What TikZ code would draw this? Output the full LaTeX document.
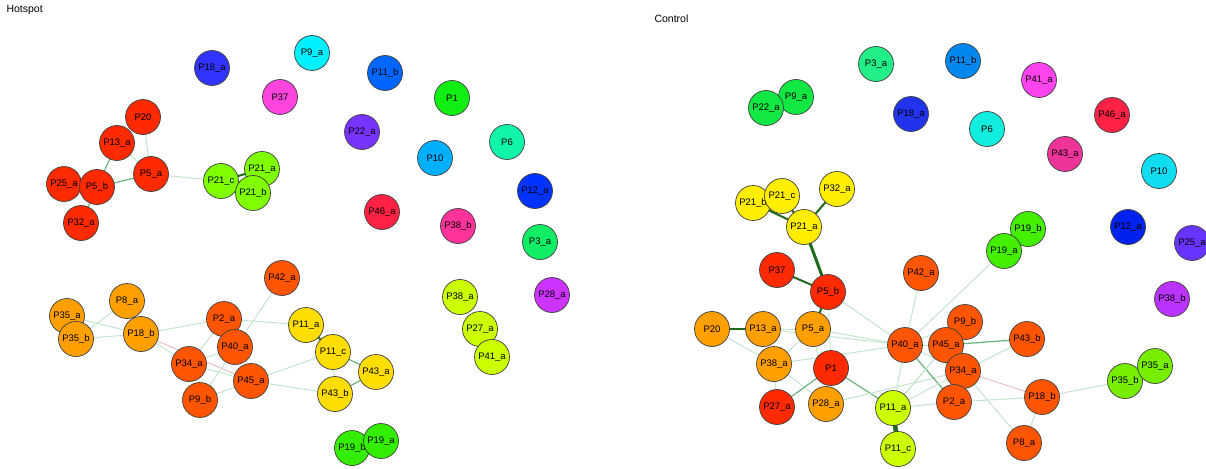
\documentclass[tikz,border=0pt]{standalone}
\usepackage{fontspec}
\setmainfont{Liberation Sans}
\usetikzlibrary{backgrounds}
\definecolor{cRed}{HTML}{FF2A00}
\definecolor{cOr}{HTML}{FF5500}
\definecolor{cLo}{HTML}{FFA000}
\definecolor{cYe}{HTML}{FFDD00}
\definecolor{cYe2}{HTML}{FFEE00}
\definecolor{cLi}{HTML}{CCFF00}
\definecolor{cTw}{HTML}{80FF00}
\definecolor{cNb}{HTML}{3333FF}
\definecolor{cCy}{HTML}{00F0FF}
\definecolor{cMg}{HTML}{FF44DD}
\definecolor{cBl}{HTML}{0066FF}
\definecolor{cGr}{HTML}{11EE11}
\definecolor{cPu}{HTML}{7733FF}
\definecolor{cSk}{HTML}{00B0FF}
\definecolor{cAq}{HTML}{11F5AA}
\definecolor{cDb}{HTML}{0033FF}
\definecolor{cCr}{HTML}{FF2244}
\definecolor{cPk}{HTML}{FF3399}
\definecolor{cSg}{HTML}{11EE66}
\definecolor{cVi}{HTML}{CC33FF}
\definecolor{cNi}{HTML}{33EE00}
\definecolor{dSg}{HTML}{22EE88}
\definecolor{dGr}{HTML}{11E844}
\definecolor{dNb}{HTML}{2233EE}
\definecolor{dBl}{HTML}{0088EE}
\definecolor{dMg}{HTML}{FF44EE}
\definecolor{dAq}{HTML}{11EEDD}
\definecolor{dPk}{HTML}{EE3399}
\definecolor{dSk}{HTML}{11DDF0}
\definecolor{dDb}{HTML}{0022EE}
\definecolor{dPu}{HTML}{6633FF}
\definecolor{dVi}{HTML}{BB33FF}
\definecolor{dNi}{HTML}{44F000}
\definecolor{dTw}{HTML}{77EE00}
\definecolor{eDark}{HTML}{1E6B1E}
\definecolor{eMid}{HTML}{6DB27C}
\definecolor{eLight}{HTML}{C4E5CC}
\definecolor{ePink}{HTML}{EBC0C6}
\tikzset{
  vtx/.style={circle, draw=black!75, line width=0.7pt, minimum size=35pt, inner sep=0pt, font=\fontsize{9.5}{10}\selectfont},
  efaint/.style={draw=eLight, line width=1pt},
  epink/.style={draw=ePink, line width=1pt},
  emid/.style={draw=eMid, line width=1.2pt},
  estrong/.style={draw=eDark, line width=2pt},
  ethick/.style={draw=eDark, line width=3pt},
  ettl/.style={font=\fontsize{10.5}{12}\selectfont, anchor=west}
}
\begin{document}
\begin{tikzpicture}[x=1pt,y=-1pt]
\useasboundingbox (0,0) rectangle (1206,468);
% titles
\node[ettl] (tH) at (3,10) {Hotspot};
\node[ettl] (tC) at (651,19) {Control};
% ---------------- Hotspot ----------------
\node[vtx, fill=cNb] (hP18a) at (212,68) {P18\_a};
\node[vtx, fill=cCy] (hP9a) at (312,53) {P9\_a};
\node[vtx, fill=cMg] (hP37) at (280,97) {P37};
\node[vtx, fill=cBl] (hP11b) at (385,73) {P11\_b};
\node[vtx, fill=cGr] (hP1) at (452,98) {P1};
\node[vtx, fill=cPu] (hP22a) at (362,132) {P22\_a};
\node[vtx, fill=cSk] (hP10) at (435,158) {P10};
\node[vtx, fill=cAq] (hP6) at (507,142) {P6};
\node[vtx, fill=cDb] (hP12a) at (535,191) {P12\_a};
\node[vtx, fill=cCr] (hP46a) at (382,212) {P46\_a};
\node[vtx, fill=cPk] (hP38b) at (458,226) {P38\_b};
\node[vtx, fill=cSg] (hP3a) at (540,242) {P3\_a};
\node[vtx, fill=cVi] (hP28a) at (552,295) {P28\_a};
\node[vtx, fill=cLi] (hP38a) at (460,297) {P38\_a};
\node[vtx, fill=cLi] (hP27a) at (480,329) {P27\_a};
\node[vtx, fill=cLi] (hP41a) at (492,357) {P41\_a};
\node[vtx, fill=cRed] (hP20) at (143,117) {P20};
\node[vtx, fill=cRed] (hP13a) at (117,143) {P13\_a};
\node[vtx, fill=cRed] (hP5a) at (151,174) {P5\_a};
\node[vtx, fill=cRed] (hP25a) at (64,184) {P25\_a};
\node[vtx, fill=cRed] (hP5b) at (97,187) {P5\_b};
\node[vtx, fill=cRed] (hP32a) at (81,223) {P32\_a};
\node[vtx, fill=cTw] (hP21c) at (221,181) {P21\_c};
\node[vtx, fill=cTw] (hP21a) at (262,169) {P21\_a};
\node[vtx, fill=cTw] (hP21b) at (253,193) {P21\_b};
\node[vtx, fill=cOr] (hP42a) at (282,278) {P42\_a};
\node[vtx, fill=cLo] (hP8a) at (127,301) {P8\_a};
\node[vtx, fill=cLo] (hP35a) at (67,316) {P35\_a};
\node[vtx, fill=cLo] (hP35b) at (76,339) {P35\_b};
\node[vtx, fill=cLo] (hP18b) at (141,334) {P18\_b};
\node[vtx, fill=cOr] (hP2a) at (224,319) {P2\_a};
\node[vtx, fill=cOr] (hP34a) at (189,364) {P34\_a};
\node[vtx, fill=cOr] (hP40a) at (235,347) {P40\_a};
\node[vtx, fill=cOr] (hP9b) at (200,400) {P9\_b};
\node[vtx, fill=cOr] (hP45a) at (251,381) {P45\_a};
\node[vtx, fill=cYe] (hP11a) at (306,325) {P11\_a};
\node[vtx, fill=cYe] (hP11c) at (333,352) {P11\_c};
\node[vtx, fill=cYe] (hP43a) at (376,372) {P43\_a};
\node[vtx, fill=cYe] (hP43b) at (335,394) {P43\_b};
\node[vtx, fill=cNi] (hP19b) at (352,448) {P19\_b};
\node[vtx, fill=cNi] (hP19a) at (381,441) {P19\_a};
% ---------------- Control ----------------
\node[vtx, fill=dSg] (cP3a) at (876,64) {P3\_a};
\node[vtx, fill=dGr] (cP9a) at (796,97) {P9\_a};
\node[vtx, fill=dGr] (cP22a) at (766,108) {P22\_a};
\node[vtx, fill=dNb] (cP18a) at (911,114) {P18\_a};
\node[vtx, fill=dBl] (cP11b) at (963,61) {P11\_b};
\node[vtx, fill=dMg] (cP41a) at (1039,80) {P41\_a};
\node[vtx, fill=dAq] (cP6) at (987,129) {P6};
\node[vtx, fill=cCr] (cP46a) at (1112,115) {P46\_a};
\node[vtx, fill=dPk] (cP43a) at (1065,154) {P43\_a};
\node[vtx, fill=dSk] (cP10) at (1159,171) {P10};
\node[vtx, fill=dDb] (cP12a) at (1128,227) {P12\_a};
\node[vtx, fill=dPu] (cP25a) at (1192,243) {P25\_a};
\node[vtx, fill=dVi] (cP38b) at (1172,299) {P38\_b};
\node[vtx, fill=cYe2] (cP21b) at (753,203) {P21\_b};
\node[vtx, fill=cYe2] (cP21c) at (782,196) {P21\_c};
\node[vtx, fill=cYe2] (cP32a) at (837,189) {P32\_a};
\node[vtx, fill=cYe2] (cP21a) at (804,227) {P21\_a};
\node[vtx, fill=dNi] (cP19b) at (1028,229) {P19\_b};
\node[vtx, fill=dNi] (cP19a) at (1004,251) {P19\_a};
\node[vtx, fill=cRed] (cP37) at (777,270) {P37};
\node[vtx, fill=cRed] (cP5b) at (828,292) {P5\_b};
\node[vtx, fill=cOr] (cP42a) at (921,273) {P42\_a};
\node[vtx, fill=cLo] (cP20) at (712,329) {P20};
\node[vtx, fill=cLo] (cP13a) at (763,329) {P13\_a};
\node[vtx, fill=cLo] (cP5a) at (813,329) {P5\_a};
\node[vtx, fill=cLo] (cP38a) at (774,364) {P38\_a};
\node[vtx, fill=cRed] (cP1) at (831,368) {P1};
\node[vtx, fill=cRed] (cP27a) at (777,407) {P27\_a};
\node[vtx, fill=cLo] (cP28a) at (826,404) {P28\_a};
\node[vtx, fill=cLi] (cP11a) at (893,408) {P11\_a};
\node[vtx, fill=cLi] (cP11c) at (898,449) {P11\_c};
\node[vtx, fill=cOr] (cP40a) at (905,345) {P40\_a};
\node[vtx, fill=cOr] (cP9b) at (965,322) {P9\_b};
\node[vtx, fill=cOr] (cP45a) at (946,345) {P45\_a};
\node[vtx, fill=cOr] (cP43b) at (1027,339) {P43\_b};
\node[vtx, fill=cOr] (cP34a) at (963,371) {P34\_a};
\node[vtx, fill=cOr] (cP2a) at (954,402) {P2\_a};
\node[vtx, fill=cOr] (cP18b) at (1042,397) {P18\_b};
\node[vtx, fill=cOr] (cP8a) at (1024,443) {P8\_a};
\node[vtx, fill=dTw] (cP35b) at (1125,381) {P35\_b};
\node[vtx, fill=dTw] (cP35a) at (1155,366) {P35\_a};
% ---------------- edges ----------------
\begin{scope}[on background layer]
% hotspot
\draw[efaint] (hP20.center) -- (hP5a.center);
\draw[efaint] (hP13a.center) -- (hP5a.center);
\draw[emid] (hP13a.center) -- (hP5b.center);
\draw[emid] (hP5b.center) -- (hP5a.center);
\draw[emid] (hP5b.center) -- (hP32a.center);
\draw[efaint] (hP5a.center) -- (hP21c.center);
\draw[estrong] (hP21c.center) -- (hP21a.center);
\draw[emid] (hP21c.center) -- (hP21b.center);
\draw[efaint] (hP35a.center) -- (hP18b.center);
\draw[efaint] (hP35b.center) -- (hP18b.center);
\draw[efaint] (hP35b.center) -- (hP8a.center);
\draw[efaint] (hP18b.center) -- (hP2a.center);
\draw[efaint] (hP18b.center) -- (hP34a.center);
\draw[epink] (hP18b.center) -- (hP45a.center);
\draw[efaint] (hP2a.center) -- (hP11a.center);
\draw[efaint] (hP2a.center) -- (hP34a.center);
\draw[efaint] (hP42a.center) -- (hP9b.center);
\draw[efaint] (hP34a.center) -- (hP40a.center);
\draw[efaint] (hP34a.center) -- (hP45a.center);
\draw[efaint] (hP9b.center) -- (hP45a.center);
\draw[efaint] (hP45a.center) -- (hP11c.center);
\draw[efaint] (hP45a.center) -- (hP43b.center);
\draw[estrong] (hP11a.center) -- (hP11c.center);
\draw[emid] (hP11c.center) -- (hP43a.center);
\draw[emid] (hP43b.center) -- (hP43a.center);
\draw[efaint] (hP11c.center) -- (hP43b.center);
% control
\draw[estrong] (cP21b.center) -- (cP21a.center);
\draw[estrong] (cP21c.center) -- (cP21a.center);
\draw[estrong] (cP32a.center) -- (cP21a.center);
\draw[ethick] (cP21a.center) -- (cP5b.center);
\draw[estrong] (cP37.center) -- (cP5b.center);
\draw[estrong] (cP5b.center) -- (cP5a.center);
\draw[efaint] (cP5b.center) -- (cP40a.center);
\draw[efaint] (cP5b.center) -- (cP1.center);
\draw[estrong] (cP20.center) -- (cP13a.center);
\draw[efaint] (cP20.center) -- (cP38a.center);
\draw[efaint] (cP13a.center) -- (cP5a.center);
\draw[efaint] (cP13a.center) -- (cP40a.center);
\draw[efaint] (cP5a.center) -- (cP38a.center);
\draw[efaint] (cP5a.center) -- (cP40a.center);
\draw[efaint] (cP5a.center) -- (cP28a.center);
\draw[efaint] (cP38a.center) -- (cP40a.center);
\draw[efaint] (cP38a.center) -- (cP28a.center);
\draw[efaint] (cP38a.center) -- (cP27a.center);
\draw[emid] (cP1.center) -- (cP27a.center);
\draw[emid] (cP1.center) -- (cP11a.center);
\draw[efaint] (cP28a.center) -- (cP34a.center);
\draw[efaint] (cP40a.center) -- (cP42a.center);
\draw[efaint] (cP40a.center) -- (cP11a.center);
\draw[emid] (cP40a.center) -- (cP2a.center);
\draw[efaint] (cP40a.center) -- (cP45a.center);
\draw[efaint] (cP40a.center) -- (cP9b.center);
\draw[efaint] (cP40a.center) -- (cP34a.center);
\draw[efaint] (cP40a.center) -- (cP19a.center);
\draw[emid] (cP45a.center) -- (cP43b.center);
\draw[efaint] (cP45a.center) -- (cP11a.center);
\draw[efaint] (cP34a.center) -- (cP43b.center);
\draw[epink] (cP34a.center) -- (cP18b.center);
\draw[efaint] (cP34a.center) -- (cP8a.center);
\draw[efaint] (cP34a.center) -- (cP11a.center);
\draw[efaint] (cP2a.center) -- (cP18b.center);
\draw[efaint] (cP2a.center) -- (cP11a.center);
\draw[efaint] (cP18b.center) -- (cP8a.center);
\draw[efaint] (cP18b.center) -- (cP35b.center);
\draw[line width=4.5pt, draw=eDark] (cP11a.center) -- (cP11c.center);
\draw[efaint] (cP11a.center) -- (cP9b.center);
\end{scope}
\end{tikzpicture}
\end{document}
